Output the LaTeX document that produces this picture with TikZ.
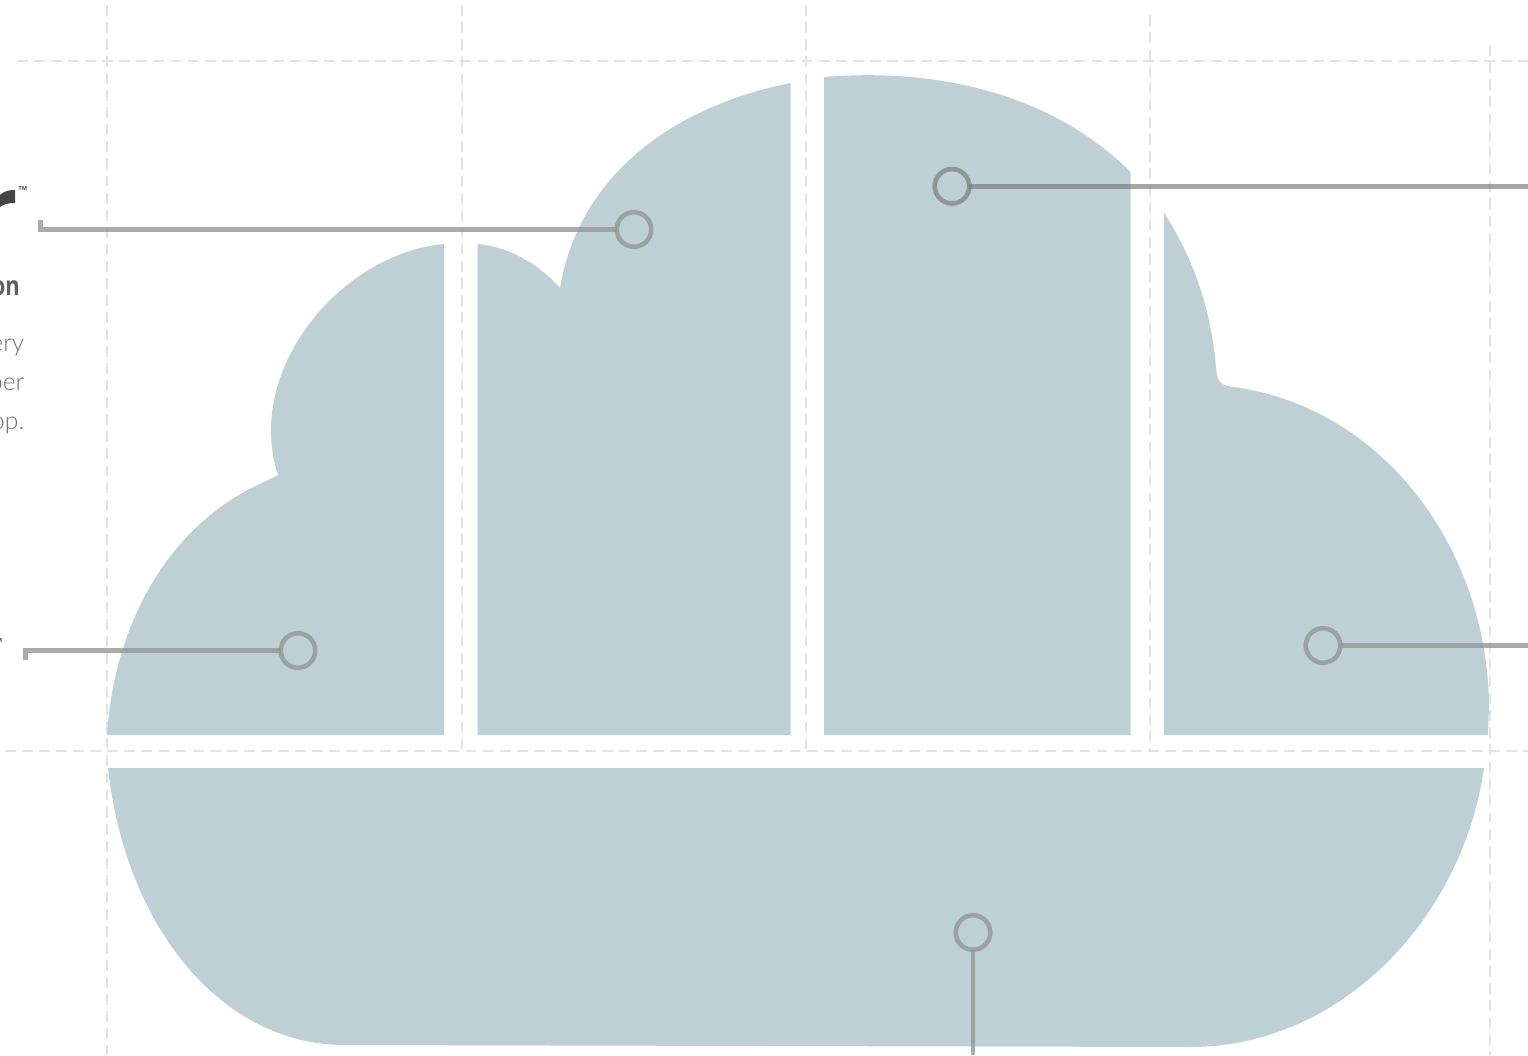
\documentclass[tikz,border=0pt]{standalone}
\usepackage{fontspec}
\setmainfont{Lato Light}
\newfontfamily\headfont[FakeStretch = 0.82]{Open Sans}
\newfontfamily\markfont{Open Sans}
\definecolor{cloudblue}{HTML}{BDD0D6}
\definecolor{guidegrey}{HTML}{E3E3E3}
\definecolor{pingrey}{RGB}{148,150,151}
\definecolor{crowngrey}{RGB}{120,120,120}
\definecolor{logogrey}{HTML}{444444}
\definecolor{bodygrey}{HTML}{707070}
\tikzset{guide/.style = {draw = guidegrey, line width = 0.57pt, dash pattern = on 3.1pt off 1.75pt}}
\tikzset{block/.style = {fill = cloudblue, draw = none}}
\tikzset{pin/.style = {shape = circle, draw = pingrey, draw opacity = 0.8, line width = 1.3pt, minimum size = 0.345cm, inner sep = 0pt, outer sep = 0pt}}
\tikzset{lead/.style = {draw = pingrey, draw opacity = 0.8, line width = 1.3pt, miter limit = 10}}
\tikzset{crownpin/.style = {pin, draw = crowngrey, draw opacity = 0.66}}
\tikzset{crownlead/.style = {lead, draw = crowngrey, draw opacity = 0.66}}
\tikzset{body/.style = {anchor = base east, inner sep = 0pt, text = bodygrey, font = \fontsize{7pt}{8pt}\selectfont}}
\tikzset{tiny/.style = {inner sep = 0pt, text = logogrey, font = \markfont\bfseries\fontsize{1.6pt}{2pt}\selectfont}}
\begin{document}
\begin{tikzpicture}[x = 0.01cm, y = -0.01cm]
	\useasboundingbox (0, 0) rectangle (1528, 1055);

	\draw[guide] (107, 5) to (107, 1055);
	\draw[guide] (462, 5) to (462, 751);
	\draw[guide] (806, 5) to (806, 751);
	\draw[guide] (1150, 15) to (1150, 751);
	\draw[guide] (1490, 45) to (1490, 1055);
	\draw[guide] (17, 61) to (1528, 61);
	\draw[guide] (5, 751) to (1528, 751);

	\fill[block] (444, 244) -- (444, 735) -- (107, 735)
		.. controls (115, 615) and (175, 522) .. (262, 483)
		-- (278, 475)
		.. controls (273, 460) and (271, 445) .. (271, 430)
		.. controls (271, 340) and (355, 252) .. (444, 244) -- cycle;
	\fill[block] (477.5, 244)
		.. controls (510, 247) and (540, 265) .. (560, 288)
		.. controls (580, 170) and (680, 105) .. (790.5, 83)
		-- (790.5, 735) -- (477.5, 735) -- cycle;
	\fill[block] (824, 77)
		.. controls (935, 68) and (1050, 92) .. (1130.5, 172)
		-- (1130.5, 735) -- (824, 735) -- cycle;
	\fill[block] (1164, 213)
		.. controls (1195, 260) and (1212, 315) .. (1216, 368)
		.. controls (1217, 380) and (1220, 385) .. (1230, 386.5)
		.. controls (1380, 405) and (1487, 545) .. (1489, 705)
		-- (1488, 735) -- (1164, 735) -- cycle;
	\fill[block] (108, 768) -- (1484, 768)
		.. controls (1462, 920) and (1340, 1047) .. (1190, 1047)
		-- (345, 1045)
		.. controls (220, 1045) and (125, 925) .. (108, 768) -- cycle;

	\node[pin] (top) at (634, 229.5) {};
	\node[crownpin] (crown) at (952, 186.3) {};
	\node[pin] (left) at (298, 650.5) {};
	\node[pin] (right) at (1323, 645.5) {};
	\node[pin] (base) at (973, 932.5) {};

	\coordinate (topbend) at (40.5, 229.5);
	\coordinate (topend) at (40.5, 220);
	\coordinate (leftbend) at (25.5, 650.5);
	\coordinate (leftend) at (25.5, 660);
	\coordinate (crownend) at (1528, 186.3);
	\coordinate (rightend) at (1528, 645.5);
	\coordinate (baseend) at (973, 1055);

	\draw[lead] (top) to (topbend) to (topend);
	\draw[lead] (left) to (leftbend) to (leftend);
	\draw[crownlead] (crown) to (crownend);
	\draw[lead] (right) to (rightend);
	\draw[lead] (base) to (baseend);

	\fill[logogrey] (0, 195) .. controls (4, 191) and (9, 190) .. (15, 190)
		-- (15, 203) .. controls (8, 203) and (4, 204) .. (0, 207) -- cycle;
	\node[tiny, anchor = west] (mark) at (18, 188) {TM};
	\node[anchor = base east, inner sep = 0pt, text = logogrey!85, font = \headfont\bfseries\fontsize{7.6pt}{8pt}\selectfont] (title) at (20.5, 296) {on};
	\node[body] (lineone) at (25, 351.5) {ery};
	\node[body] (linetwo) at (25, 390.5) {ber};
	\node[body] (linethree) at (25, 429.5) {op.};
	\node[tiny, anchor = east] (marktwo) at (3, 640) {M};
\end{tikzpicture}
\end{document}
